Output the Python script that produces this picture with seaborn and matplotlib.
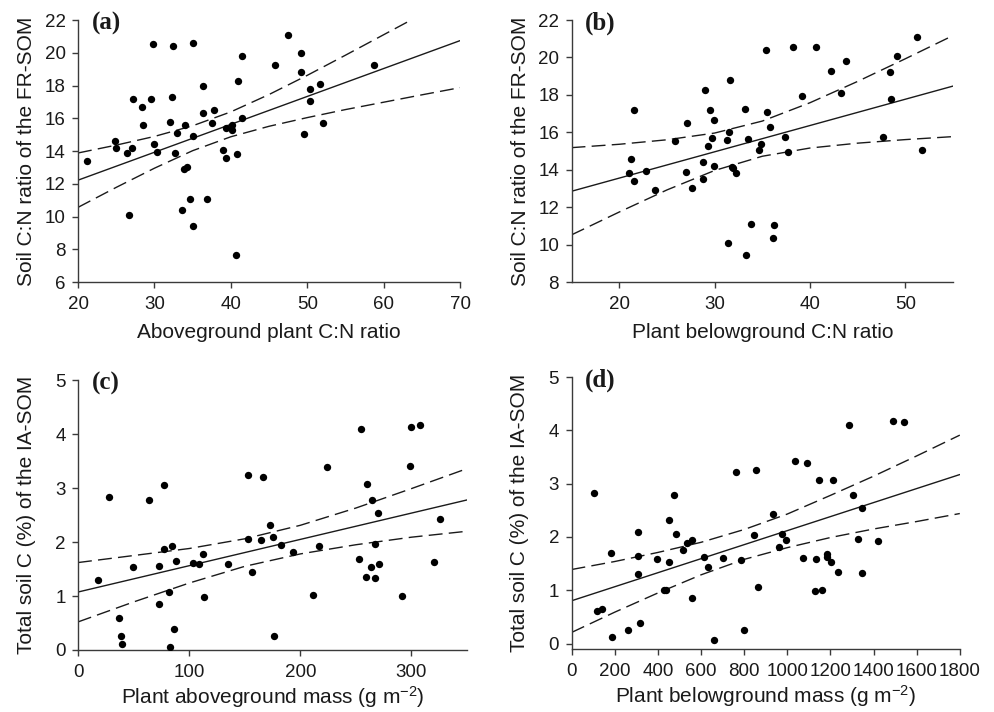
import numpy as np
import pandas as pd
import matplotlib
matplotlib.use("Agg")
import matplotlib.pyplot as plt
from matplotlib.transforms import offset_copy
import seaborn as sns

# ---------------- scatter data ----------------
a_x = [21.2, 24.9, 25.0, 26.4, 27.0, 26.7, 27.2, 28.4, 28.5, 29.6, 29.8, 30.0, 30.4,
       32.1, 32.3, 32.4, 32.75, 33.0, 33.6, 34.0, 33.9, 34.3, 34.6, 35.1, 35.1, 35.1,
       36.3, 36.4, 36.9, 37.8, 37.55, 39.0, 39.4, 39.4, 40.2, 40.2, 40.7, 40.8, 40.96,
       41.4, 41.5, 45.8, 47.5, 49.2, 49.2, 49.6, 50.3, 50.3, 51.7, 52.0, 58.8]
a_y = [13.4, 14.6, 14.2, 13.9, 14.2, 10.1, 17.2, 16.7, 15.6, 17.2, 20.55, 14.4, 13.95,
       15.75, 17.3, 20.4, 13.85, 15.07, 10.4, 15.6, 12.93, 13.03, 11.1, 20.57, 14.93, 9.44,
       17.96, 16.3, 11.05, 16.5, 15.7, 14.07, 15.38, 13.56, 15.56, 15.27, 7.67, 13.8, 18.27,
       16.0, 19.8, 19.27, 21.08, 19.96, 18.8, 15.05, 17.78, 17.07, 18.1, 15.74, 19.27]

b_x = [21.6, 21.26, 21.05, 21.54, 22.8, 23.7, 25.8, 27.07, 27.04, 27.6, 29.0, 28.8, 28.8,
       29.3, 29.5, 29.7, 29.9, 29.9, 31.27, 31.48, 31.6, 31.4, 31.87, 31.9, 32.25, 33.16,
       33.3, 33.55, 33.86, 34.67, 34.9, 35.44, 35.5, 35.8, 36.07, 36.24, 37.4, 37.7, 38.24,
       39.15, 40.6, 42.2, 43.3, 43.8, 47.7, 48.4, 48.5, 49.15, 51.2, 51.7]
b_y = [17.19, 14.6, 13.81, 13.38, 13.92, 12.92, 15.52, 16.51, 13.9, 13.0, 18.27, 14.4, 13.53,
       15.25, 17.2, 15.7, 16.67, 14.2, 15.59, 16.0, 18.8, 10.1, 14.17, 14.07, 13.8, 17.26,
       9.44, 15.65, 11.12, 15.05, 15.4, 20.38, 17.06, 16.3, 10.37, 11.05, 15.74, 14.93, 20.58,
       17.96, 20.55, 19.27, 18.1, 19.8, 15.75, 19.24, 17.78, 20.1, 21.07, 15.07]

c_x = [17.7, 27.6, 37.2, 38.7, 39.9, 49.8, 64.3, 72.7, 73.0, 77.5, 77.8, 81.7, 82.9, 84.7,
       86.5, 88.3, 103.3, 109.0, 112.6, 113.8, 135.1, 153.2, 153.2, 156.8, 164.9, 166.7,
       172.7, 175.7, 176.6, 182.9, 193.7, 211.7, 216.5, 223.7, 253.2, 255.0, 259.5, 260.4,
       263.7, 264.9, 267.6, 267.6, 269.7, 270.6, 291.3, 299.1, 300.0, 307.5, 320.4, 325.5]
c_y = [1.29, 2.83, 0.60, 0.25, 0.12, 1.53, 2.78, 1.56, 0.85, 3.06, 1.88, 1.07, 0.06, 1.93,
       0.39, 1.64, 1.62, 1.59, 1.77, 0.98, 1.59, 3.25, 2.06, 1.44, 2.03, 3.20,
       2.31, 2.09, 0.25, 1.94, 1.81, 1.01, 1.92, 3.39, 1.69, 4.09, 1.35, 3.07,
       1.53, 2.77, 1.96, 1.33, 2.54, 1.60, 1.00, 3.41, 4.14, 4.16, 1.63, 2.43]

d_x = [103.5, 119, 140.6, 184, 188.5, 259.6, 306, 306, 306, 318, 395.5, 426.5, 437, 452.7,
       452.7, 476, 485, 517.6, 533, 559, 558, 612, 633.5, 660, 703, 762, 785, 800, 843.6,
       853, 863.7, 931.7, 964, 976.5, 995, 1033.7, 1070.8, 1091, 1128, 1134, 1149.5, 1163,
       1182, 1185, 1202, 1211, 1233, 1287, 1305.6, 1327, 1347, 1347, 1421.5, 1489.5, 1539]
d_y = [2.83, 0.61, 0.65, 1.70, 0.12, 0.26, 2.10, 1.64, 1.30, 0.39, 1.59, 1.00, 1.00, 2.31,
       1.53, 2.78, 2.06, 1.76, 1.88, 1.95, 0.85, 1.62, 1.44, 0.06, 1.60, 3.21, 1.56, 0.26,
       2.03, 3.25, 1.07, 2.44, 1.81, 2.06, 1.94, 3.42, 1.60, 3.39, 0.98, 1.59, 3.06, 1.00,
       1.69, 1.63, 1.53, 3.07, 1.35, 4.10, 2.78, 1.96, 2.54, 1.33, 1.92, 4.17, 4.15]

# ---------------- regression lines and 95% bands ----------------
a_fit_x = [20, 70]
a_fit_y = [12.22, 20.74]
a_band_x = [20, 25, 30, 35, 40, 45, 50, 55, 60, 65, 70]
a_band_lo = [10.56, 11.78, 12.95, 14.02, 14.87, 15.51, 16.04, 16.53, 16.98, 17.43, 17.87]
a_band_hi = [13.88, 14.36, 14.89, 15.54, 16.39, 17.45, 18.62, 19.85, 21.10, 22.35, 23.61]

b_fit_x = [15, 55]
b_fit_y = [12.85, 18.47]
b_band_x = [15, 20, 25, 30, 35, 40, 45, 50, 55]
b_band_lo = [10.52, 11.74, 12.92, 13.96, 14.72, 15.16, 15.42, 15.61, 15.77]
b_band_hi = [15.18, 15.36, 15.60, 15.96, 16.60, 17.58, 18.72, 19.93, 21.17]

c_fit_x = [0, 350]
c_fit_y = [1.074, 2.78]
c_band_x = [0, 50, 100, 150, 200, 250, 300, 350]
c_band_lo = [0.52, 0.89, 1.24, 1.55, 1.78, 1.95, 2.09, 2.20]
c_band_hi = [1.62, 1.75, 1.88, 2.06, 2.31, 2.63, 2.99, 3.36]

d_fit_x = [0, 1800]
d_fit_y = [0.804, 3.171]
d_band_x = [0, 200, 400, 600, 800, 1000, 1200, 1400, 1600, 1800]
d_band_lo = [0.21, 0.59, 0.95, 1.29, 1.58, 1.80, 1.99, 2.15, 2.29, 2.44]
d_band_hi = [1.39, 1.54, 1.71, 1.90, 2.14, 2.43, 2.78, 3.14, 3.52, 3.91]

# ---------------- labels / ticks ----------------
panel_letters = ["(a)", "(b)", "(c)", "(d)"]
x_labels = ["Aboveground plant C:N ratio", "Plant belowground C:N ratio",
            "Plant aboveground mass (g m$^{-2}$)",
            "Plant belowground mass (g m$^{-2}$)"]
y_labels = ["Soil C:N ratio of the FR-SOM", "Soil C:N ratio of the FR-SOM",
            "Total soil C (%) of the IA-SOM", "Total soil C (%) of the IA-SOM"]
x_ticks = [[20, 30, 40, 50, 60, 70], [20, 30, 40, 50],
           [0, 100, 200, 300], [0, 200, 400, 600, 800, 1000, 1200, 1400, 1600, 1800]]
y_ticks = [[6, 8, 10, 12, 14, 16, 18, 20, 22], [8, 10, 12, 14, 16, 18, 20, 22],
           [0, 1, 2, 3, 4, 5], [0, 1, 2, 3, 4, 5]]

# ---------------- style ----------------
sns.set_theme(style="ticks")
plt.rcParams["font.family"] = ["Liberation Sans", "DejaVu Sans"]
plt.rcParams["mathtext.fontset"] = "custom"
plt.rcParams["mathtext.rm"] = "Liberation Sans"
plt.rcParams["mathtext.it"] = "Liberation Sans:italic"
plt.rcParams["mathtext.default"] = "regular"

fig = plt.figure(figsize=(9.94, 7.12), dpi=100)
rects = [
    [0.0785, 0.6039, 0.3843, 0.368],
    [0.575, 0.6039, 0.3838, 0.368],
    [0.0785, 0.0871, 0.3913, 0.379],
    [0.575, 0.0885, 0.3906, 0.382],
]
xlims = [(20, 70), (15, 55), (0, 350), (0, 1800)]
ylims = [(6, 22), (8, 22), (0, 5), (-0.1, 5)]
scatter_sets = [(a_x, a_y), (b_x, b_y), (c_x, c_y), (d_x, d_y)]
fit_sets = [(a_fit_x, a_fit_y), (b_fit_x, b_fit_y), (c_fit_x, c_fit_y), (d_fit_x, d_fit_y)]
band_sets = [(a_band_x, a_band_lo, a_band_hi), (b_band_x, b_band_lo, b_band_hi),
             (c_band_x, c_band_lo, c_band_hi), (d_band_x, d_band_lo, d_band_hi)]
xlabel_pads = [7, 7, 2, 2]
ylabel_pads = [6, 6, 14, 14]

ink = "#1a1a1a"
axis_col = "#3a3a3a"

for i in range(4):
    ax = fig.add_axes(rects[i])
    pts = pd.DataFrame({"x": scatter_sets[i][0], "y": scatter_sets[i][1]})
    fit = pd.DataFrame({"x": fit_sets[i][0], "y": fit_sets[i][1]})
    bx, blo, bhi = band_sets[i]
    band = pd.DataFrame({"x": bx, "lo": blo, "hi": bhi})

    sns.lineplot(data=fit, x="x", y="y", ax=ax, color=ink, lw=1.0)
    for col in ("lo", "hi"):
        sns.lineplot(data=band, x="x", y=col, ax=ax, color=ink, lw=1.0,
                     linestyle=(0, (10, 4.5)))
    sns.scatterplot(data=pts, x="x", y="y", ax=ax, color="black", s=28,
                    edgecolor="black", linewidth=0, zorder=3)

    ax.set_xlim(*xlims[i])
    ax.set_ylim(*ylims[i])
    ax.set_xticks(x_ticks[i])
    ax.set_yticks(y_ticks[i])
    ax.set_xlabel(x_labels[i], fontsize=15, labelpad=xlabel_pads[i], color=ink)
    ax.set_ylabel(y_labels[i], fontsize=15, labelpad=ylabel_pads[i], color=ink)
    ax.tick_params(axis="both", labelsize=13.5, direction="out", length=4,
                   width=1.0, color=axis_col, labelcolor=ink)
    ax.tick_params(axis="x", pad=6)
    ax.tick_params(axis="y", pad=5)
    for side in ("top", "right"):
        ax.spines[side].set_visible(False)
    for side in ("left", "bottom"):
        ax.spines[side].set_color(axis_col)
        ax.spines[side].set_linewidth(1.0)
    trans = offset_copy(ax.transAxes, fig=fig, x=13.5 * 0.72, y=8 * 0.72, units="points")
    ax.text(0.0, 1.0, panel_letters[i], transform=trans, ha="left", va="top",
            fontsize=18, fontweight="bold", color=ink,
            family=["Liberation Serif", "DejaVu Serif"])
    ax.grid(False)

fig.savefig("out.png", dpi=100)
